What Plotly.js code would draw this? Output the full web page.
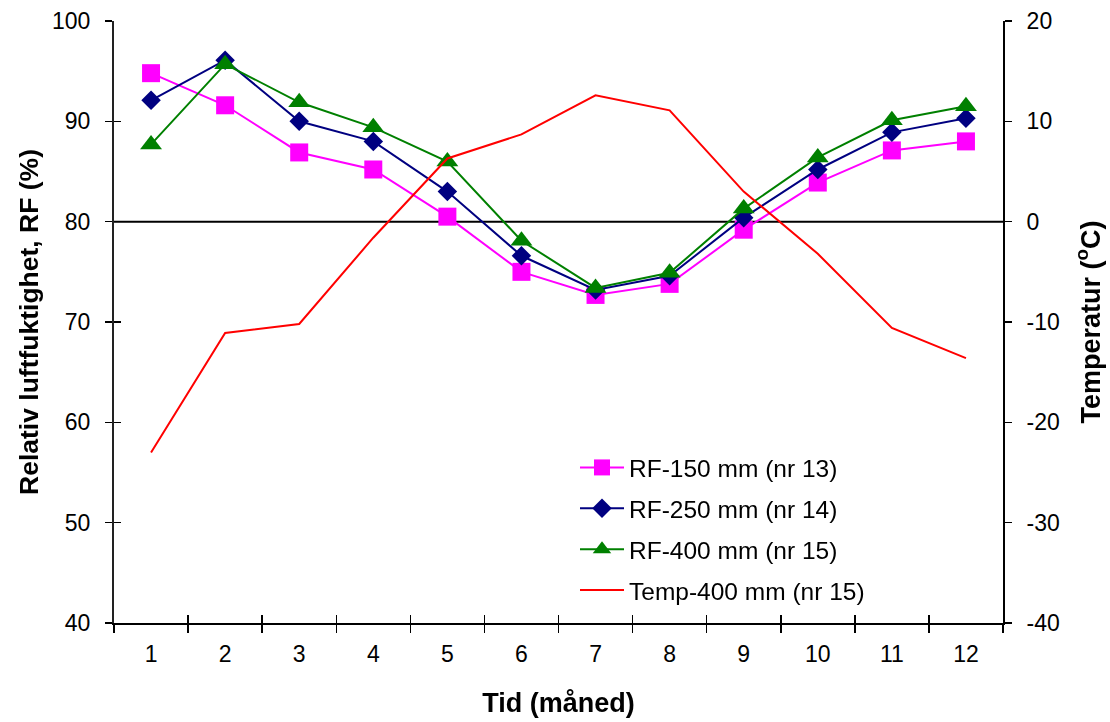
<!DOCTYPE html>
<html>
<head>
<meta charset="utf-8">
<script src="https://cdn.plot.ly/plotly-3.0.1.min.js"></script>
<style>html,body{margin:0;padding:0;background:#fff;}#chart{width:1110px;height:722px;}</style>
</head>
<body>
<div id="chart"></div>
<script>
// ---- data ----
const months = ['1','2','3','4','5','6','7','8','9','10','11','12'];
const rf150 = [94.8, 91.6, 86.9, 85.2, 80.5, 75.0, 72.7, 73.8, 79.2, 83.9, 87.1, 88.0];
const rf250 = [92.1, 96.1, 90.0, 88.0, 83.0, 76.6, 73.2, 74.6, 80.4, 85.2, 88.9, 90.3];
const rf400 = [87.7, 95.7, 91.9, 89.4, 86.0, 78.1, 73.4, 74.9, 81.3, 86.4, 90.1, 91.5];
const temp400 = [-23.0, -11.1, -10.2, -1.6, 6.3, 8.7, 12.6, 11.1, 3.0, -3.2, -10.6, -13.6];
const seriesNames = ['RF-150 mm (nr 13)', 'RF-250 mm (nr 14)', 'RF-400 mm (nr 15)', 'Temp-400 mm (nr 15)'];
const rfTicks = [40, 50, 60, 70, 80, 90, 100];
const tempTicks = [-40, -30, -20, -10, 0, 10, 20];
const tempTickText = ['-40', '-30', '-20', '-10', '0', '10', '20'];
const tempZero = 0;

const FONT = 'Liberation Sans, Arial, sans-serif';

const traces = [
  {x: months, y: rf150, name: seriesNames[0], type: 'scatter', mode: 'lines+markers',
   line: {color: '#FF00FF', width: 2}, marker: {symbol: 'square', size: 18, color: '#FF00FF'},
   legendgroup: 'a', xaxis: 'x', yaxis: 'y'},
  {x: months, y: rf250, name: seriesNames[1], type: 'scatter', mode: 'lines+markers',
   line: {color: '#000080', width: 2}, marker: {symbol: 'diamond', size: 15, color: '#000080'},
   legendgroup: 'b', xaxis: 'x', yaxis: 'y'},
  {x: months, y: rf400, name: seriesNames[2], type: 'scatter', mode: 'lines+markers',
   line: {color: '#008000', width: 2}, marker: {symbol: 'triangle-up', size: 19, color: '#008000'},
   legendgroup: 'c', xaxis: 'x', yaxis: 'y'},
  {x: months, y: temp400, name: seriesNames[3], type: 'scatter', mode: 'lines',
   line: {color: '#FF0000', width: 2},
   legendgroup: 'd', xaxis: 'x', yaxis: 'y2'},
  // invisible helper so the inside-tick overlay axes are drawn
  {x: months, y: rf150, type: 'scatter', mode: 'markers', opacity: 0, showlegend: false,
   hoverinfo: 'skip', xaxis: 'x2', yaxis: 'y3'}
];

const layout = {
  width: 1110, height: 722,
  margin: {l: 114, r: 107, t: 21, b: 99, pad: 0},
  paper_bgcolor: '#ffffff', plot_bgcolor: '#ffffff',
  font: {family: FONT, size: 23, color: '#000'},
  showlegend: true,
  legend: {
    x: (575 - 114) / 889, xanchor: 'left',
    y: (623 - 445) / 602, yanchor: 'top',
    bgcolor: 'rgba(0,0,0,0)', borderwidth: 0,
    font: {family: FONT, size: 24.5, color: '#000'},
    traceorder: 'grouped', tracegroupgap: 6, itemwidth: 44
  },
  xaxis: {
    type: 'category', categoryorder: 'array', categoryarray: months,
    range: [-0.5, 11.5],
    tickson: 'boundaries', ticks: 'outside', ticklen: 8, tickwidth: 1.5, tickcolor: '#000',
    showline: true, linecolor: '#000', linewidth: 2,
    showgrid: false, zeroline: false,
    tickfont: {family: FONT, size: 23, color: '#000'},
    ticklabelstandoff: 9,
    title: {text: '<b>Tid (måned)</b>', font: {family: FONT, size: 27, color: '#000'}, standoff: 28},
    fixedrange: true
  },
  xaxis2: {
    type: 'category', categoryorder: 'array', categoryarray: months,
    range: [-0.5, 11.5], overlaying: 'x', anchor: 'y',
    tickson: 'boundaries', ticks: 'inside', ticklen: 8, tickwidth: 1.5, tickcolor: '#000',
    showticklabels: false, showline: false, showgrid: false, zeroline: false
  },
  xaxis3: {
    type: 'category', categoryorder: 'array', categoryarray: months,
    range: [-0.5, 11.5], overlaying: 'x', anchor: 'y', side: 'top',
    ticks: '', showticklabels: false, showline: true, linecolor: '#8c8c8c', linewidth: 2,
    showgrid: false, zeroline: false
  },
  yaxis: {
    range: [40, 100], tickvals: rfTicks, ticks: 'outside', ticklen: 7, tickwidth: 1.5, tickcolor: '#000',
    showline: true, linecolor: '#222', linewidth: 2,
    showgrid: false, zeroline: false,
    tickfont: {family: FONT, size: 23, color: '#000'},
    ticklabelstandoff: 10,
    title: {text: '<b>Relativ luftfuktighet, RF (%)</b>', font: {family: FONT, size: 26.5, color: '#000'}, standoff: 6},
    fixedrange: true
  },
  yaxis3: {
    range: [40, 100], tickvals: rfTicks, overlaying: 'y', anchor: 'x',
    ticks: 'inside', ticklen: 7, tickwidth: 1.5, tickcolor: '#000',
    showticklabels: false, showline: false, showgrid: false, zeroline: false
  },
  yaxis2: {
    range: [-40, 20], tickvals: tempTicks, ticktext: tempTickText, overlaying: 'y', side: 'right', anchor: 'x',
    ticks: 'outside', ticklen: 7, tickwidth: 1.5, tickcolor: '#000',
    showline: true, linecolor: '#000', linewidth: 2,
    showgrid: false, zeroline: false,
    tickfont: {family: FONT, size: 23, color: '#000'},
    ticklabelstandoff: 10,
    title: {text: '<b>Temperatur (<sup>o</sup>C)</b>', font: {family: FONT, size: 27, color: '#000'}, standoff: 22},
    fixedrange: true
  },
  shapes: [
    {type: 'line', xref: 'paper', x0: 0, x1: 1, yref: 'y2', y0: tempZero, y1: tempZero,
     line: {color: '#000', width: 2}, layer: 'below'}
  ]
};

Plotly.newPlot('chart', traces, layout, {staticPlot: true, displayModeBar: false});
</script>
</body>
</html>
